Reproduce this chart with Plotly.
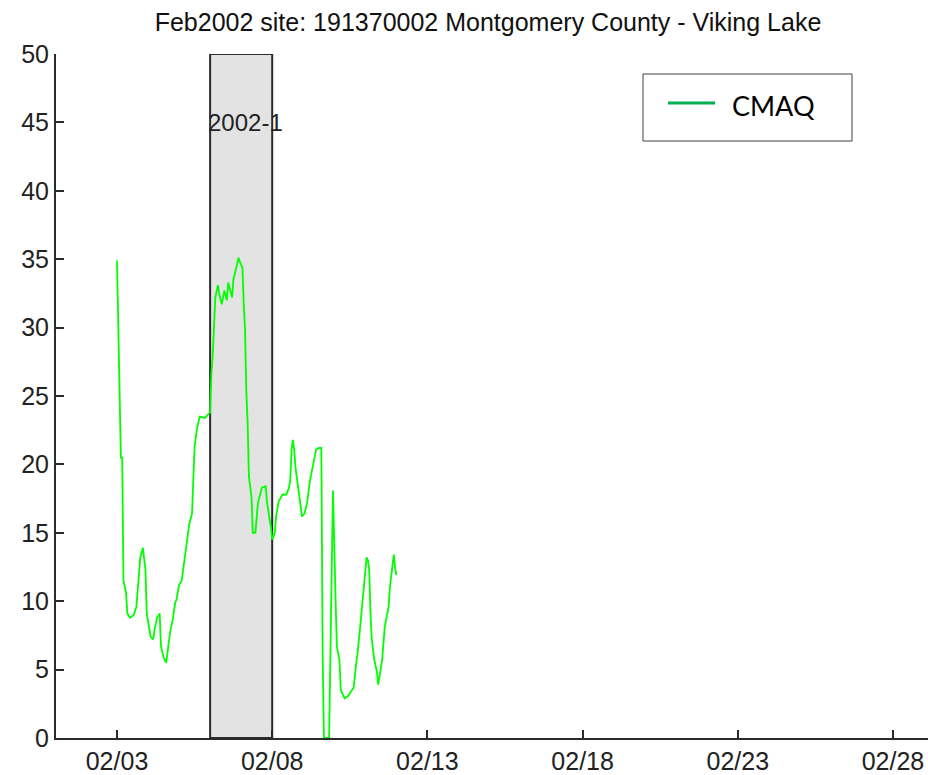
import pandas as pd
import plotly.graph_objects as go

# ---- data -------------------------------------------------------------
title_text = "Feb2002 site: 191370002 Montgomery County - Viking Lake"
start_time = "2002-02-03 00:00"
hours = [0, 1, 2, 3, 4, 5, 7, 8, 10, 13, 15, 16, 18, 20, 22, 23, 25, 26, 28, 29,
         31, 33, 34, 36, 38, 40, 41, 43, 45, 46, 48, 50, 52, 53, 55, 56, 58, 59,
         60, 62, 64, 68, 70, 72, 73, 74, 76, 78, 79, 81, 83, 85, 86, 89, 90, 92,
         94, 95, 97, 98, 99, 100, 101, 102, 104, 105, 107, 109, 112, 115, 116,
         119, 120, 122, 123, 125, 128, 131, 133, 134, 135, 136, 137, 138, 141,
         143, 145, 147, 149, 152, 154, 156, 158, 159, 160, 164, 165, 166, 167,
         168, 169, 170, 172, 173, 176, 179, 183, 185, 186, 188, 189, 191, 192,
         193, 194, 195, 196, 197, 199, 201, 202, 203, 205, 207, 210, 211, 213,
         214, 215, 216]
cmaq = [34.9, 29.8, 26.8, 20.5, 20.5, 11.5, 10.6, 9.1, 8.8, 9.0, 9.6, 10.8, 13.2,
        13.9, 12.3, 9.1, 8.1, 7.4, 7.2, 7.9, 8.8, 9.1, 6.7, 5.9, 5.5, 6.9, 7.7,
        8.6, 9.9, 10.1, 11.2, 11.5, 12.8, 13.5, 15.0, 15.7, 16.4, 18.9, 21.3,
        22.7, 23.5, 23.4, 23.6, 23.8, 26.7, 27.9, 32.2, 33.1, 32.5, 31.7, 32.7,
        32.0, 33.3, 32.2, 33.5, 34.2, 35.1, 34.8, 34.4, 31.7, 29.8, 25.3, 23.0,
        19.1, 17.6, 15.0, 15.0, 17.2, 18.3, 18.4, 17.2, 15.4, 14.5, 15.0, 16.2,
        17.3, 17.8, 17.8, 18.3, 18.9, 21.1, 21.8, 21.1, 19.8, 17.4, 16.2, 16.4,
        17.2, 18.7, 20.3, 21.1, 21.2, 21.2, 6.2, 0.0, 0.0, 5.0, 12.1, 18.1,
        15.0, 10.1, 6.7, 5.7, 3.5, 2.9, 3.1, 3.7, 5.5, 6.2, 8.1, 9.1, 11.0, 12.3,
        13.2, 13.0, 12.3, 9.1, 7.2, 5.7, 4.8, 3.9, 4.5, 5.7, 8.1, 9.6, 11.0,
        12.8, 13.4, 12.5, 11.9]
series_name = "CMAQ"
event_start = "2002-02-06 00:00"
event_end = "2002-02-08 00:00"
event_label = "2002-1"
event_label_y = 45
x_ticks = ["2002-02-03", "2002-02-08", "2002-02-13", "2002-02-18", "2002-02-23", "2002-02-28"]
x_tick_labels = ["02/03", "02/08", "02/13", "02/18", "02/23", "02/28"]
y_ticks = [0, 5, 10, 15, 20, 25, 30, 35, 40, 45, 50]
x_range = ["2002-02-01 00:50", "2002-03-01 03:04"]
y_range = [0, 50]

# ---- figure -----------------------------------------------------------
times = pd.Timestamp(start_time) + pd.to_timedelta(hours, unit="h")

W, H = 928, 775
ML, MR, MT, MB = 56, 0, 54, 37
axis_col = "#2b2b2b"
font_main = "Liberation Sans, Arial, sans-serif"

fig = go.Figure()
fig.add_trace(go.Scatter(x=times, y=cmaq, mode="lines", name=series_name,
                         line=dict(color="#00ff00", width=1.8), showlegend=False))

# event shading
fig.add_shape(type="rect", xref="x", yref="y", x0=event_start, x1=event_end,
              y0=y_range[0], y1=y_range[1], fillcolor="#e3e3e3",
              line=dict(color="#2b2b2b", width=2), layer="below")
fig.add_annotation(x=event_start, y=event_label_y, xref="x", yref="y",
                   text=event_label, showarrow=False, xanchor="left", yanchor="middle",
                   xshift=-4, font=dict(family=font_main, size=24, color="#222"))

# legend box (drawn manually, pixel positions converted to paper coords)
pw, ph = W - ML - MR, H - MT - MB
def px(x):
    return (x - ML) / pw
def py(y):
    return 1 - (y - MT) / ph

fig.add_shape(type="rect", xref="paper", yref="paper",
              x0=px(643), x1=px(852), y0=py(141), y1=py(74),
              fillcolor="white", line=dict(color="#404040", width=1))
fig.add_shape(type="line", xref="paper", yref="paper",
              x0=px(668), x1=px(715), y0=py(103), y1=py(103),
              line=dict(color="#00b050", width=3))
fig.add_annotation(xref="paper", yref="paper", x=px(730), y=py(106),
                   text=series_name, showarrow=False, xanchor="left", yanchor="middle",
                   font=dict(family="Lato, Open Sans, sans-serif", size=27, color="black"))

fig.update_layout(
    width=W, height=H,
    margin=dict(l=ML, r=MR, t=MT, b=MB, pad=0, autoexpand=False),
    paper_bgcolor="white", plot_bgcolor="white",
    showlegend=False,
    title=dict(text=title_text, x=488 / W, xanchor="center",
               y=1 - 22 / H, yanchor="middle", yref="container",
               font=dict(family=font_main, size=25, color="#111")),
)
fig.update_xaxes(range=x_range, tickvals=x_ticks, ticktext=x_tick_labels,
                 ticks="inside", ticklen=8, tickwidth=1.5, tickcolor=axis_col,
                 showline=True, linecolor=axis_col, linewidth=2, showgrid=False,
                 zeroline=False, mirror=False, automargin=False,
                 tickfont=dict(family=font_main, size=25, color="#222"))
fig.update_yaxes(range=y_range, tickvals=y_ticks,
                 ticks="inside", ticklen=8, tickwidth=1.5, tickcolor=axis_col,
                 showline=True, linecolor=axis_col, linewidth=2, showgrid=False,
                 zeroline=False, mirror=False, automargin=False,
                 tickfont=dict(family=font_main, size=25, color="#222"))

fig.write_html("out.html", config={"displayModeBar": False},
               post_script="document.body.style.margin='0';document.body.style.overflow='hidden';")
